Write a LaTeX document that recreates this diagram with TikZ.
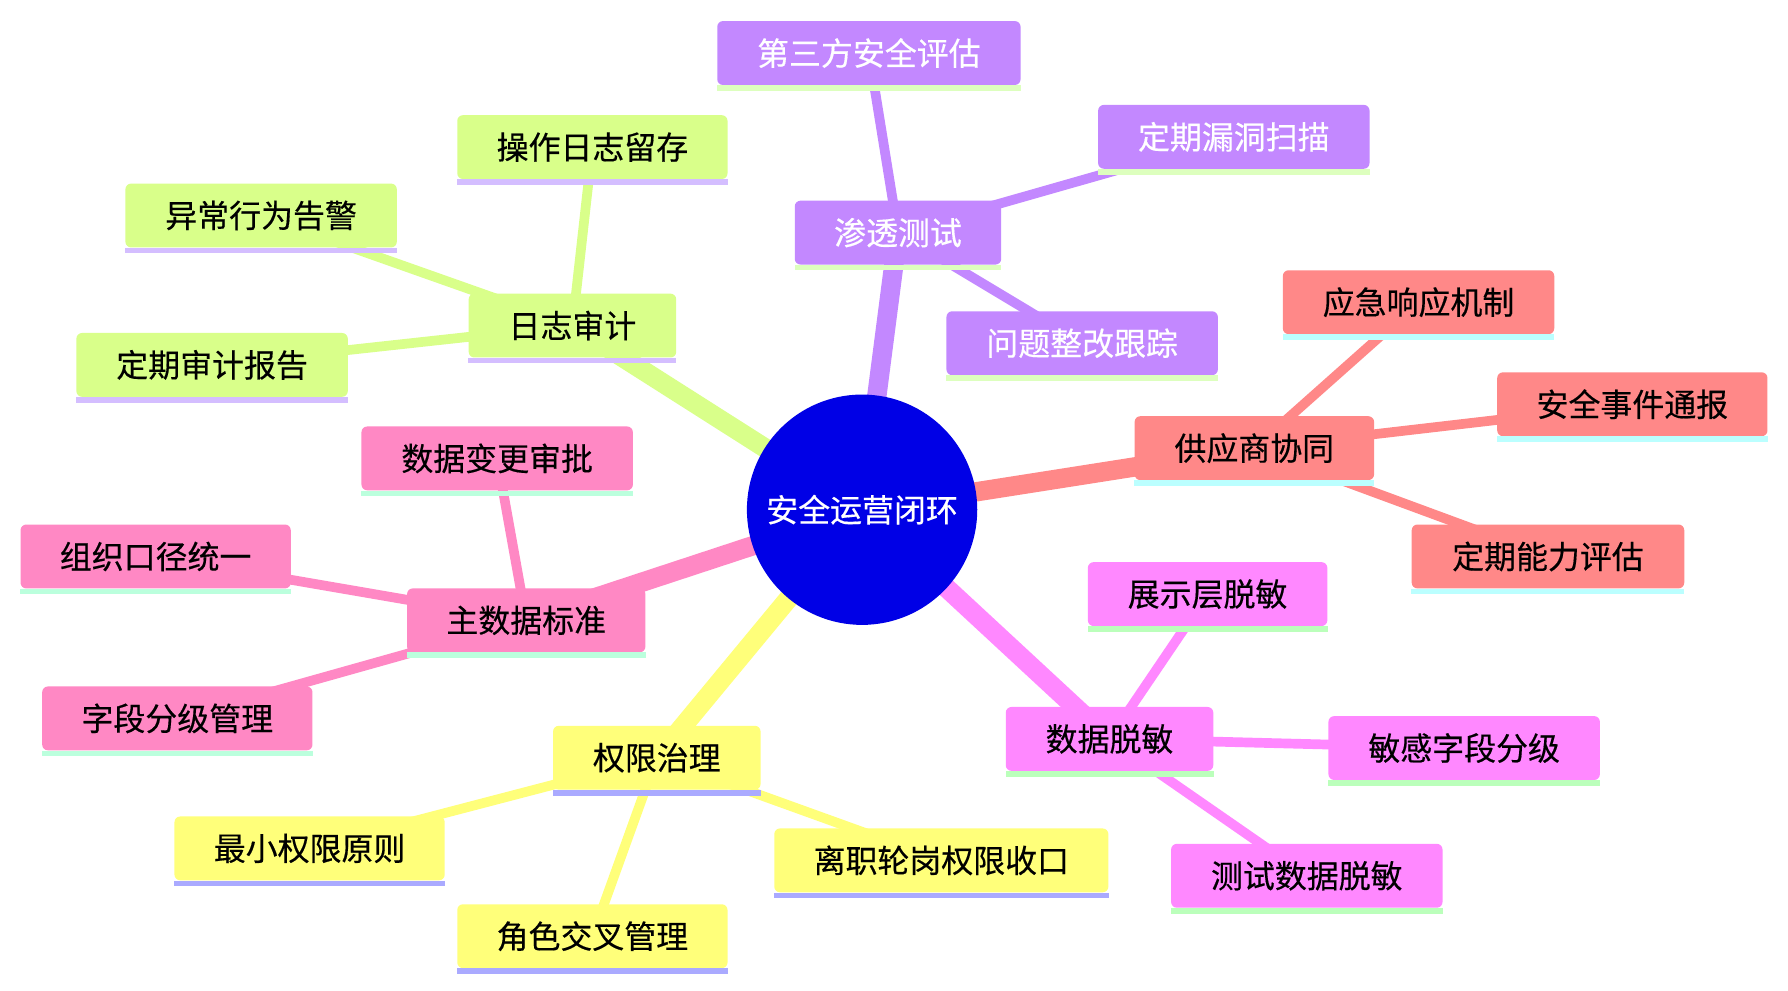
\documentclass[tikz,border=0pt]{standalone}
\usepackage{fontspec}
\setmainfont{Noto Sans CJK SC}[FakeBold=0.4]
\usetikzlibrary{backgrounds}
\definecolor{cpur}{RGB}{195,136,255}
\definecolor{cpurul}{RGB}{221,255,190}
\definecolor{clim}{RGB}{217,255,138}
\definecolor{climul}{RGB}{212,190,255}
\definecolor{cpin}{RGB}{255,136,196}
\definecolor{cpinul}{RGB}{187,255,221}
\definecolor{cyel}{RGB}{255,255,122}
\definecolor{cyelul}{RGB}{170,170,255}
\definecolor{cmag}{RGB}{255,136,255}
\definecolor{cmagul}{RGB}{187,255,187}
\definecolor{csal}{RGB}{255,136,136}
\definecolor{csalul}{RGB}{187,255,255}
\definecolor{croot}{RGB}{0,0,230}
\tikzset{
  box/.style={fill=#1, rounded corners=5pt, minimum height=56pt, inner sep=0pt, text=black},
  rootnode/.style={circle, fill=croot, minimum size=202pt, inner sep=0pt, text=white},
  rootedge/.style={draw=#1, line width=17pt},
  childedge/.style={draw=#1, line width=8.5pt},
}
% name, x, y, width, colour, text colour, text
\newcommand\mmbox[7]{%
  \node[box=#5, minimum width=#4pt, text=#6] (#1) at (#2,#3) {#7};
  \fill[#5ul] (#1.south west) rectangle ([yshift=-5pt]#1.south east);
}
\begin{document}
\begin{tikzpicture}[x=1pt, y=-1pt, font=\fontsize{28pt}{34pt}\selectfont]
\useasboundingbox (0,0) rectangle (1568,869);
\node[rootnode] (root) at (756,447) {安全运营闭环};
% purple
\mmbox{pen}{787.5}{204}{181}{cpur}{white}{渗透测试}
\mmbox{p1}{762}{46.5}{266}{cpur}{white}{第三方安全评估}
\mmbox{p2}{1082}{120}{238}{cpur}{white}{定期漏洞扫描}
\mmbox{p3}{949}{301}{238}{cpur}{white}{问题整改跟踪}
% lime
\mmbox{log}{502}{285.5}{182}{clim}{black}{日志审计}
\mmbox{l1}{519.5}{129}{237}{clim}{black}{操作日志留存}
\mmbox{l2}{229}{189}{238}{clim}{black}{异常行为告警}
\mmbox{l3}{186}{320}{238}{clim}{black}{定期审计报告}
% pink
\mmbox{md}{461.5}{544}{209}{cpin}{black}{主数据标准}
\mmbox{m1}{436}{402}{238}{cpin}{black}{数据变更审批}
\mmbox{m2}{136.5}{488}{237}{cpin}{black}{组织口径统一}
\mmbox{m3}{155.5}{630}{237}{cpin}{black}{字段分级管理}
% yellow
\mmbox{pm}{576}{664.5}{182}{cyel}{black}{权限治理}
\mmbox{y1}{271.5}{744}{237}{cyel}{black}{最小权限原则}
\mmbox{y2}{519.5}{821}{237}{cyel}{black}{角色交叉管理}
\mmbox{y3}{825.5}{754.5}{293}{cyel}{black}{离职轮岗权限收口}
% magenta
\mmbox{dm}{973}{648}{182}{cmag}{black}{数据脱敏}
\mmbox{g1}{1059}{521}{210}{cmag}{black}{展示层脱敏}
\mmbox{g2}{1284}{656}{238}{cmag}{black}{敏感字段分级}
\mmbox{g3}{1146}{768}{238}{cmag}{black}{测试数据脱敏}
% salmon
\mmbox{sp}{1100}{393}{210}{csal}{black}{供应商协同}
\mmbox{s1}{1244}{265}{238}{csal}{black}{应急响应机制}
\mmbox{s2}{1431.5}{354.5}{237}{csal}{black}{安全事件通报}
\mmbox{s3}{1357.5}{488}{239}{csal}{black}{定期能力评估}
\begin{scope}[on background layer]
\fill[white] (0,0) rectangle (1568,869);
\draw[rootedge=cpur] (root.center) -- (pen.center);
\draw[rootedge=clim] (root.center) -- (log.center);
\draw[rootedge=cpin] (root.center) -- (md.center);
\draw[rootedge=cyel] (root.center) -- (pm.center);
\draw[rootedge=cmag] (root.center) -- (dm.center);
\draw[rootedge=csal] (root.center) -- (sp.center);
\draw[childedge=cpur] (pen.center) -- (p1.center);
\draw[childedge=cpur] (pen.center) -- (p2.center);
\draw[childedge=cpur] (pen.center) -- (p3.center);
\draw[childedge=clim] (log.center) -- (l1.center);
\draw[childedge=clim] (log.center) -- (l2.center);
\draw[childedge=clim] (log.center) -- (l3.center);
\draw[childedge=cpin] (md.center) -- (m1.center);
\draw[childedge=cpin] (md.center) -- (m2.center);
\draw[childedge=cpin] (md.center) -- (m3.center);
\draw[childedge=cyel] (pm.center) -- (y1.center);
\draw[childedge=cyel] (pm.center) -- (y2.center);
\draw[childedge=cyel] (pm.center) -- (y3.center);
\draw[childedge=cmag] (dm.center) -- (g1.center);
\draw[childedge=cmag] (dm.center) -- (g2.center);
\draw[childedge=cmag] (dm.center) -- (g3.center);
\draw[childedge=csal] (sp.center) -- (s1.center);
\draw[childedge=csal] (sp.center) -- (s2.center);
\draw[childedge=csal] (sp.center) -- (s3.center);
\end{scope}
\end{tikzpicture}
\end{document}
